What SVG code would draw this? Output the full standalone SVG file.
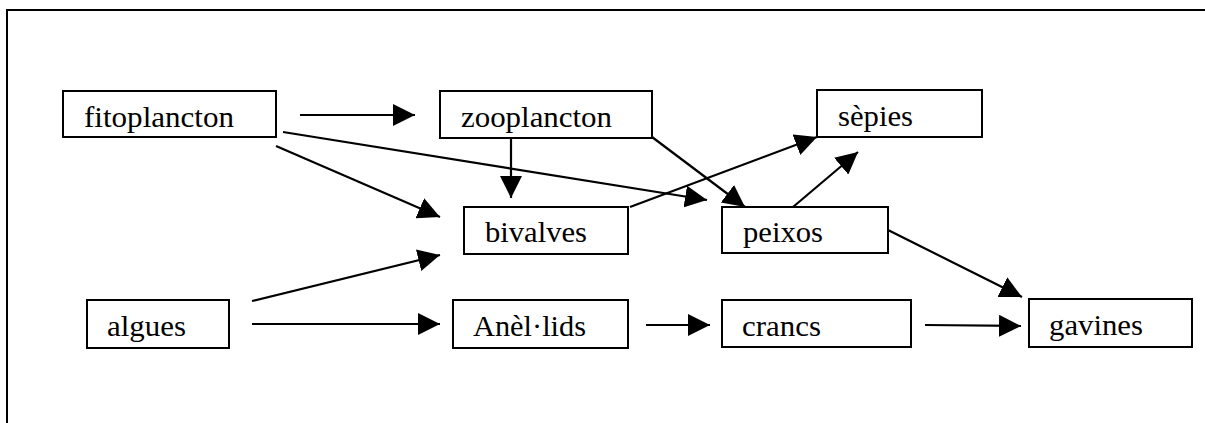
<svg xmlns="http://www.w3.org/2000/svg" width="1205" height="423" viewBox="0 0 1205 423">
<defs>
<marker id="ah" markerWidth="22" markerHeight="22" viewBox="0 0 22 22" refX="22" refY="11" orient="auto" markerUnits="userSpaceOnUse">
<path d="M0,0 L22,11 L0,22 Z" fill="#000"/>
</marker>
<style>
.box{fill:#fff;stroke:#000;stroke-width:2}
.con line{stroke:#000;stroke-width:2.2;marker-end:url(#ah)}
.frame{stroke:#000;stroke-width:2;fill:none}
text{font-family:'Liberation Serif','DejaVu Serif','Times New Roman',serif;font-size:30px;fill:#000}
</style>
</defs>
<rect width="1205" height="423" fill="#fff"/>
<path class="frame" d="M7,423 V10 H1205"/>
<g id="connectors" class="con">
<line x1="300" y1="115" x2="415" y2="115"/>
<line x1="276" y1="146" x2="440" y2="217"/>
<line x1="283" y1="132" x2="707" y2="200"/>
<line x1="511" y1="138" x2="511" y2="198"/>
<line x1="652" y1="137" x2="745" y2="207"/>
<line x1="630" y1="207" x2="817" y2="137"/>
<line x1="793" y1="207" x2="858" y2="152"/>
<line x1="888" y1="230" x2="1022" y2="297"/>
<line x1="925" y1="325" x2="1021" y2="326"/>
<line x1="252" y1="301" x2="440" y2="255"/>
<line x1="252" y1="324" x2="440" y2="324"/>
<line x1="646" y1="325" x2="710" y2="325"/>
</g>
<g id="fitoplancton"><rect class="box" x="63" y="91" width="213" height="46"/><text x="84" y="127" textLength="150" lengthAdjust="spacingAndGlyphs">fitoplancton</text></g>
<g id="zooplancton"><rect class="box" x="440" y="91" width="212" height="47"/><text x="461" y="127" textLength="151" lengthAdjust="spacingAndGlyphs">zooplancton</text></g>
<g id="sepies"><rect class="box" x="817" y="90" width="165" height="47"/><text x="838" y="126" textLength="75" lengthAdjust="spacingAndGlyphs">sèpies</text></g>
<g id="bivalves"><rect class="box" x="464" y="207" width="164" height="47"/><text x="485" y="242" textLength="102" lengthAdjust="spacingAndGlyphs">bivalves</text></g>
<g id="peixos"><rect class="box" x="722" y="207" width="166" height="46"/><text x="743" y="242" textLength="80" lengthAdjust="spacingAndGlyphs">peixos</text></g>
<g id="algues"><rect class="box" x="87" y="300" width="142" height="48"/><text x="107" y="336" textLength="79" lengthAdjust="spacingAndGlyphs">algues</text></g>
<g id="anellids"><rect class="box" x="453" y="300" width="175" height="48"/><text x="473" y="336" textLength="113" lengthAdjust="spacingAndGlyphs">Anèl·lids</text></g>
<g id="crancs"><rect class="box" x="722" y="300" width="189" height="47"/><text x="742" y="336" textLength="79" lengthAdjust="spacingAndGlyphs">crancs</text></g>
<g id="gavines"><rect class="box" x="1029" y="299" width="163" height="48"/><text x="1049" y="335" textLength="94" lengthAdjust="spacingAndGlyphs">gavines</text></g>
</svg>
